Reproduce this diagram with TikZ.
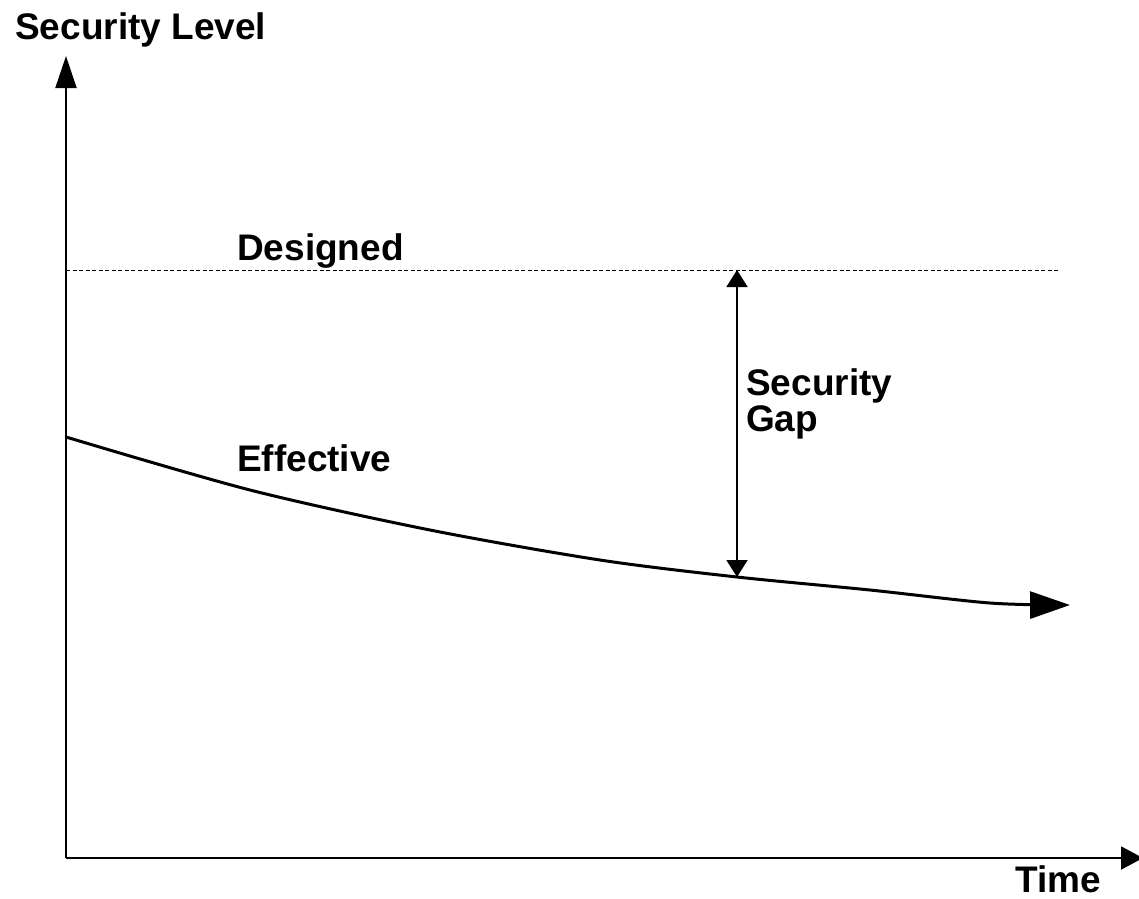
\documentclass[tikz,border=0pt]{standalone}
\usepackage{fontspec}
\setmainfont{Liberation Sans}
\usetikzlibrary{arrows.meta}
\begin{document}
\begin{tikzpicture}[x=1pt,y=-1pt,
  lbl/.style={font=\fontsize{37}{42}\selectfont\bfseries, inner sep=0pt, anchor=base west},
  axis/.style={line width=2pt},
  gap/.style={line width=1.8pt, {Triangle[length=17pt,width=21pt]}-{Triangle[length=17pt,width=21pt]}},
  eff/.style={line width=3pt, -{Triangle[length=40pt,width=27pt]}}]
\useasboundingbox (0,0) rectangle (1139,898);
\coordinate (O) at (66,858);
\coordinate (Ytop) at (66,56);
\coordinate (Xend) at (1143,858);
\coordinate (D0) at (66,270);
\coordinate (D1) at (1060,270);
\coordinate (Gt) at (737,270);
\coordinate (Gb) at (737,577);
\draw[axis, -{Triangle[length=32pt,width=21pt]}] (O) -- (Ytop);
\draw[axis, -{Triangle[length=22pt,width=23pt]}] (O) -- (Xend);
\draw[line width=1pt, dash pattern=on 4pt off 2.5pt] (D0) -- (D1);
\draw[eff] plot[smooth, tension=0.5] coordinates {(66,437) (250,490) (430,530) (600,560) (737,577) (870,590) (990,603) (1070,605)};
\draw[gap] (Gt) -- (Gb);
\node[lbl] (sl) at (15,39) {Security Level};
\node[lbl] (des) at (237,260) {Designed};
\node[lbl] (eft) at (237,471) {Effective};
\node[lbl] (sg1) at (746,395) {Security};
\node[lbl] (sg2) at (746,431) {Gap};
\node[lbl] (tm) at (1015,892) {Time};
\end{tikzpicture}
\end{document}
